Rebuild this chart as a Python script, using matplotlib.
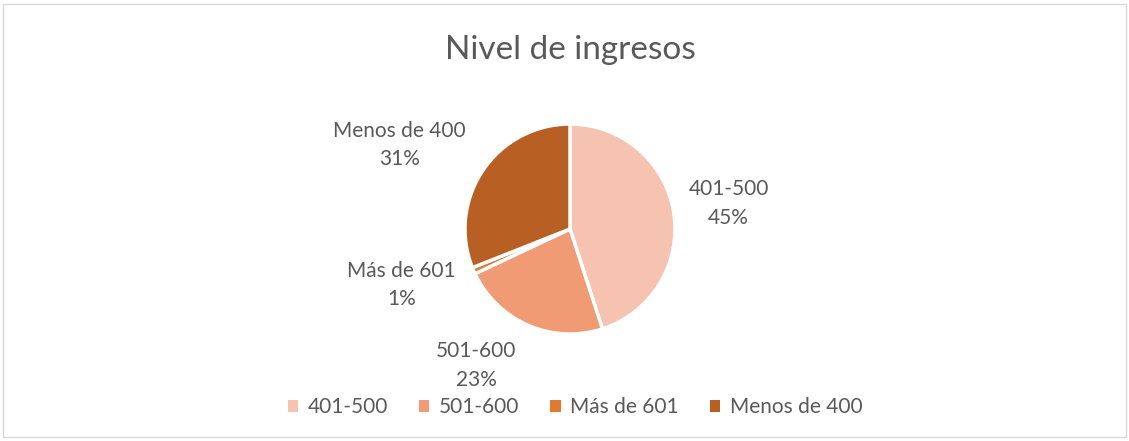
import numpy as np
import matplotlib.pyplot as plt
from matplotlib.patches import Rectangle

labels = ['401-500', '501-600', 'Más de 601', 'Menos de 400']
values = [45, 23, 1, 31]
colors = ['#F5C3B0', '#F09B73', '#E07A30', '#B86024']
# per-label tweaks of the data label placement (distance in radii, angle offset in deg)
lab_dist = [1.53, 1.58, 1.69, 1.81]
lab_dang = [0, -11, -5, 8]

plt.rcParams['font.family'] = ['Lato', 'DejaVu Sans']
txt = '#595959'

fig = plt.figure(figsize=(11.29, 4.41), dpi=100)
fig.patches.append(Rectangle((0.003, 0.008), 0.994, 0.982, transform=fig.transFigure,
                             fill=False, edgecolor='#D9D9D9', linewidth=1))

# pie centre ~ (570, 229) px, radius ~105 px
r_px = 105
ax = fig.add_axes([(570 - r_px) / 1129, (441 - 229 - r_px) / 441, 2 * r_px / 1129, 2 * r_px / 441])
wedges, _ = ax.pie(values, colors=colors, startangle=90, counterclock=False,
                   wedgeprops=dict(edgecolor='white', linewidth=2.5), radius=1)
ax.set_xlim(-1, 1)
ax.set_ylim(-1, 1)
ax.set_aspect('auto')
ax.axis('off')

for w, lab, v, d, da in zip(wedges, labels, values, lab_dist, lab_dang):
    ang = np.deg2rad((w.theta1 + w.theta2) / 2 + da)
    ax.text(d * np.cos(ang), d * np.sin(ang), f'{lab}\n{v}%', ha='center', va='center',
            fontsize=15, color=txt, linespacing=1.55, clip_on=False)

fig.text(570 / 1129, 1 - 50 / 441, 'Nivel de ingresos', ha='center', va='center',
         fontsize=24, color=txt)

leg = fig.legend(wedges, labels, loc='center', bbox_to_anchor=(575 / 1129, 1 - 407 / 441),
                 ncol=4, frameon=False, fontsize=15, handlelength=0.5, handleheight=0.5,
                 handletextpad=0.45, columnspacing=1.5, labelcolor=txt)
for h in leg.legend_handles:
    h.set_linewidth(0)

fig.savefig('out.png', dpi=100)
